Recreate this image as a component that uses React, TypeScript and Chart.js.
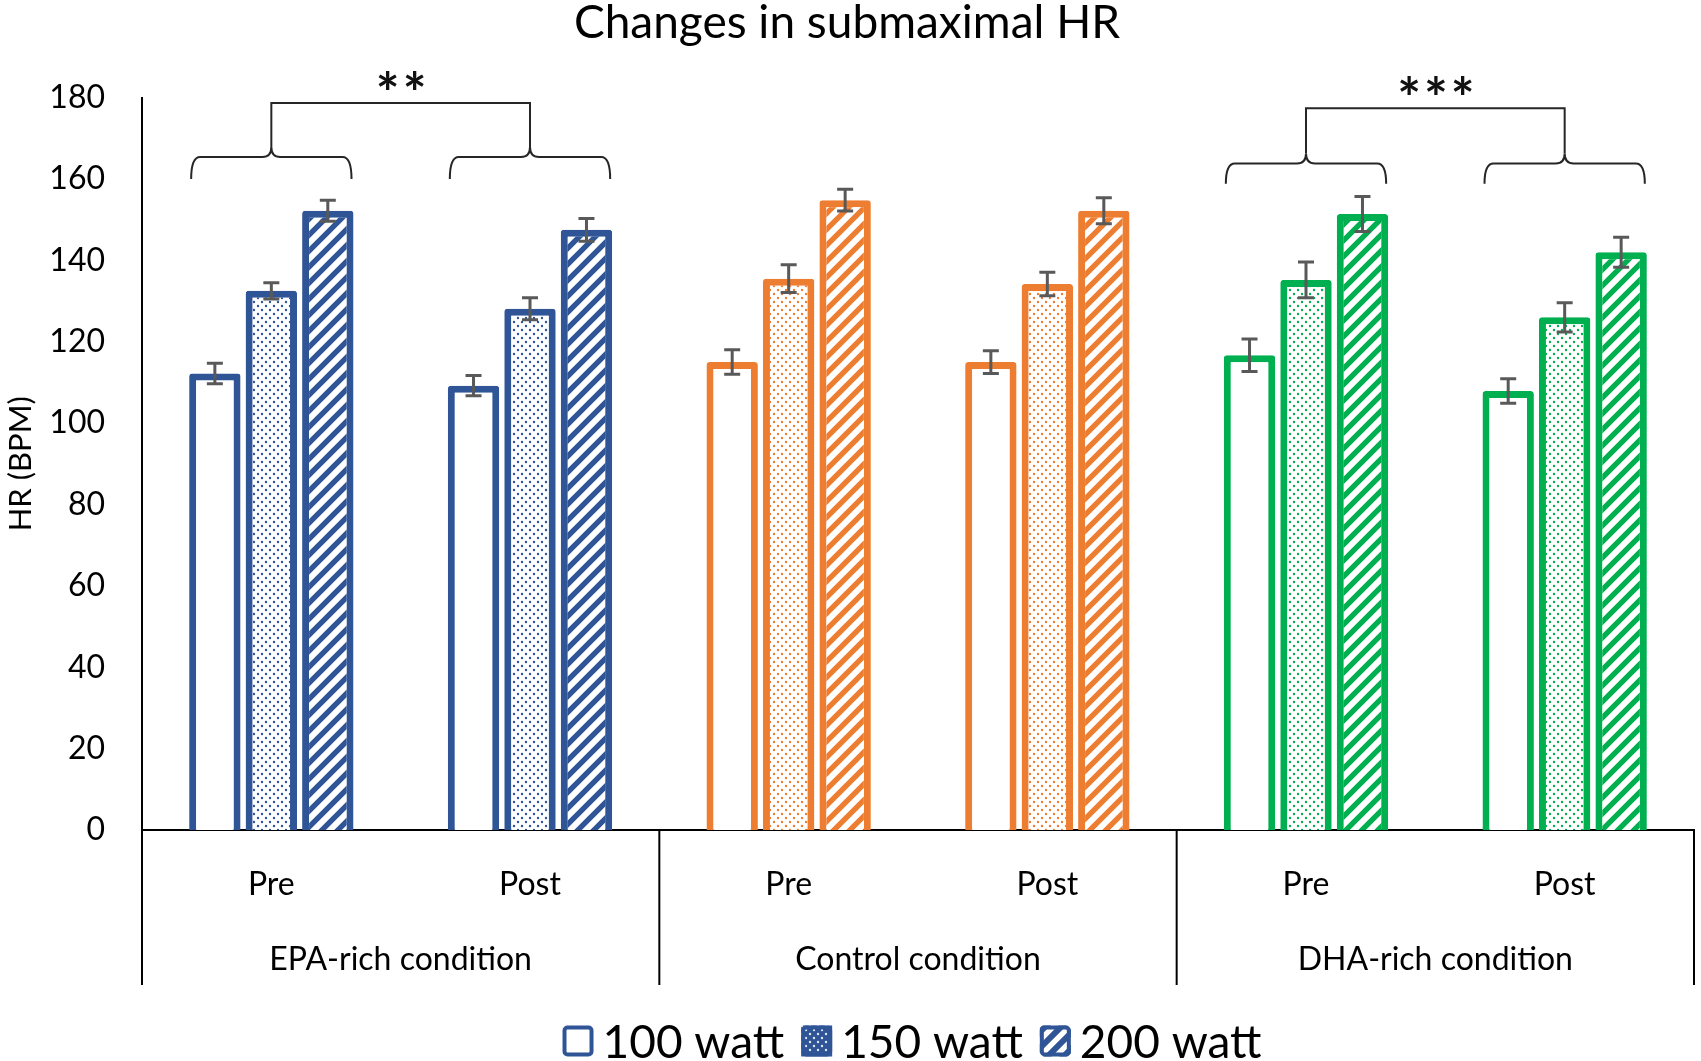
import React, { useEffect, useRef } from "react";
import { Chart, registerables } from "chart.js";

Chart.register(...registerables);

// --- data ---
const categories = ["Pre", "Post", "Pre", "Post", "Pre", "Post"];
const conditions = ["EPA-rich condition", "Control condition", "DHA-rich condition"];
const seriesNames = ["100 watt", "150 watt", "200 watt"];

const hr100 = [112.2, 109.2, 115.0, 115.0, 116.7, 107.9];
const hr150 = [132.5, 128.1, 135.5, 134.2, 135.2, 126.0];
const hr200 = [152.2, 147.5, 154.8, 152.2, 151.4, 142.0];

const err100 = [2.5, 2.5, 3.0, 2.8, 4.0, 3.0];
const err150 = [2.0, 2.7, 3.4, 2.9, 4.4, 3.6];
const err200 = [2.6, 2.8, 2.7, 3.2, 4.3, 3.7];

// significance brackets: which condition, label, and levels (in BPM)
const bracketConditions = [0, 2];
const bracketStars = ["**", "***"];
const braceEndLevel = [160.0, 158.8];
const braceLineLevel = [165.4, 163.8];
const bracketTopLevel = [178.7, 177.4];

const conditionColors = ["#2F5597", "#ED7D31", "#00B050"];
const FONT = "Lato";

const makeTile = (w, h, draw) => {
    const c = document.createElement("canvas");
    c.width = w;
    c.height = h;
    const g = c.getContext("2d");
    draw(g);
    return g.createPattern(c, "repeat");
};

const dotPattern = (color, bg = "#ffffff", dot = color) =>
    makeTile(8, 8, (g) => {
        g.fillStyle = bg;
        g.fillRect(0, 0, 8, 8);
        g.fillStyle = dot;
        g.beginPath();
        g.arc(2, 2, 1.2, 0, Math.PI * 2);
        g.arc(6, 6, 1.2, 0, Math.PI * 2);
        g.fill();
    });

const stripePattern = (color, bg = "#ffffff", line = color) =>
    makeTile(16, 16, (g) => {
        g.fillStyle = bg;
        g.fillRect(0, 0, 16, 16);
        g.strokeStyle = line;
        g.lineWidth = 5.4;
        g.beginPath();
        g.moveTo(-1, 17);
        g.lineTo(17, -1);
        g.moveTo(-9, 9);
        g.lineTo(9, -9);
        g.moveTo(7, 25);
        g.lineTo(25, 7);
        g.stroke();
    });

const catColor = (i) => conditionColors[Math.floor(i / 2)];

const errorBars = {
    id: "errorBars",
    afterDatasetsDraw(chart) {
        const { ctx } = chart;
        const y = chart.scales.y;
        const errs = [err100, err150, err200];
        ctx.save();
        ctx.strokeStyle = "#595959";
        ctx.lineWidth = 3;
        chart.data.datasets.forEach((ds, d) => {
            const meta = chart.getDatasetMeta(d);
            meta.data.forEach((bar, i) => {
                const v = ds.data[i];
                const e = errs[d][i];
                const top = y.getPixelForValue(v + e);
                const bot = y.getPixelForValue(v - e);
                ctx.beginPath();
                ctx.moveTo(bar.x, top);
                ctx.lineTo(bar.x, bot);
                ctx.moveTo(bar.x - 8, top);
                ctx.lineTo(bar.x + 8, top);
                ctx.moveTo(bar.x - 8, bot);
                ctx.lineTo(bar.x + 8, bot);
                ctx.stroke();
            });
        });
        ctx.restore();
    },
};

const decorations = {
    id: "decorations",
    afterDraw(chart) {
        const { ctx, chartArea } = chart;
        const x = chart.scales.x;
        const y = chart.scales.y;
        ctx.save();

        // group separators and condition labels under the axis
        const px = (i) => x.getPixelForValue(i);
        const bounds = [chartArea.left, (px(1) + px(2)) / 2, (px(3) + px(4)) / 2, chartArea.right];
        ctx.strokeStyle = "#000";
        ctx.lineWidth = 2;
        bounds.forEach((b) => {
            ctx.beginPath();
            ctx.moveTo(b, chartArea.bottom);
            ctx.lineTo(b, chartArea.bottom + 155);
            ctx.stroke();
        });
        ctx.fillStyle = "#000";
        ctx.font = `32px ${FONT}`;
        ctx.textAlign = "center";
        ctx.textBaseline = "middle";
        conditions.forEach((c, k) => {
            ctx.fillText(c, (bounds[k] + bounds[k + 1]) / 2, chartArea.bottom + 130);
        });

        // significance braces
        const first = chart.getDatasetMeta(0);
        const last = chart.getDatasetMeta(chart.data.datasets.length - 1);
        ctx.strokeStyle = "#262626";
        ctx.lineWidth = 2;
        bracketConditions.forEach((cond, k) => {
            const yEnd = y.getPixelForValue(braceEndLevel[k]);
            const yLine = y.getPixelForValue(braceLineLevel[k]);
            const yTip = yLine - 10;
            const yTop = y.getPixelForValue(bracketTopLevel[k]);
            const centers = [];
            [cond * 2, cond * 2 + 1].forEach((i) => {
                const b0 = first.data[i];
                const b1 = last.data[i];
                const x0 = b0.x - b0.width / 2 + 2;
                const x1 = b1.x + b1.width / 2 - 2;
                const xc = px(i);
                centers.push(xc);
                const r = 9;
                ctx.beginPath();
                ctx.moveTo(x0, yEnd);
                ctx.quadraticCurveTo(x0, yLine, x0 + r, yLine);
                ctx.lineTo(xc - r, yLine);
                ctx.quadraticCurveTo(xc, yLine, xc, yTip);
                ctx.quadraticCurveTo(xc, yLine, xc + r, yLine);
                ctx.lineTo(x1 - r, yLine);
                ctx.quadraticCurveTo(x1, yLine, x1, yEnd);
                ctx.stroke();
            });
            ctx.beginPath();
            ctx.moveTo(centers[0], yTip);
            ctx.lineTo(centers[0], yTop);
            ctx.lineTo(centers[1], yTop);
            ctx.lineTo(centers[1], yTip);
            ctx.stroke();
            ctx.fillStyle = "#111";
            ctx.font = `bold 56px ${FONT}`;
            ctx.letterSpacing = "3px";
            ctx.textBaseline = "alphabetic";
            ctx.fillText(bracketStars[k], (centers[0] + centers[1]) / 2 + 2, yTop + 10);
            ctx.letterSpacing = "0px";
        });

        // legend
        ctx.font = `46px ${FONT}`;
        ctx.textAlign = "left";
        ctx.textBaseline = "middle";
        const box = 31;
        const gapText = 9;
        const gapItem = 17;
        const widths = seriesNames.map((s) => ctx.measureText(s).width);
        const total = widths.reduce((a, w) => a + box + gapText + w, 0) + gapItem * (seriesNames.length - 1);
        let cx = (chartArea.left + chartArea.right) / 2 - total / 2 - 6;
        const ly = 1041;
        const blue = conditionColors[0];
        const legendFills = ["#ffffff", dotPattern(blue, blue, "#dfe6f2"), stripePattern(blue, blue, "#ffffff")];
        seriesNames.forEach((s, k) => {
            ctx.fillStyle = legendFills[k];
            ctx.fillRect(cx, ly - box / 2, box, box);
            ctx.strokeStyle = blue;
            ctx.lineWidth = 4;
            ctx.beginPath();
            ctx.roundRect(cx + 2, ly - box / 2 + 2, box - 4, box - 4, 3);
            ctx.stroke();
            ctx.fillStyle = "#000";
            ctx.fillText(s, cx + box + gapText, ly + 2);
            cx += box + gapText + widths[k] + gapItem;
        });
        ctx.restore();
    },
};

const App: React.FC = () => {
    const canvasRef = useRef(null);
    const chartRef = useRef(null);

    useEffect(() => {
        document.body.style.margin = "0";
        if (!canvasRef.current) return;
        if (chartRef.current) chartRef.current.destroy();

        const values = [hr100, hr150, hr200];
        const fills = [
            categories.map(() => "#ffffff"),
            categories.map((_, i) => dotPattern(catColor(i))),
            categories.map((_, i) => stripePattern(catColor(i))),
        ];

        const tickFont = { family: FONT, size: 32 };

        chartRef.current = new Chart(canvasRef.current, {
            type: "bar",
            data: {
                labels: categories,
                datasets: seriesNames.map((name, d) => ({
                    label: name,
                    data: values[d],
                    backgroundColor: fills[d],
                    borderColor: categories.map((_, i) => catColor(i)),
                    borderWidth: 7,
                    borderRadius: 3,
                    borderSkipped: "start",
                    categoryPercentage: 0.655,
                    barPercentage: 0.91,
                })),
            },
            options: {
                animation: false,
                responsive: false,
                layout: { padding: { left: 0, right: 7, top: 0, bottom: 0 } },
                plugins: {
                    legend: { display: false },
                    tooltip: { enabled: false },
                    title: {
                        display: true,
                        text: "Changes in submaximal HR",
                        color: "#000",
                        font: { family: FONT, size: 46, weight: "normal", lineHeight: 1 },
                        padding: { top: 0, bottom: 51.6 },
                    },
                },
                scales: {
                    x: {
                        grid: { display: false, drawTicks: false },
                        border: { display: true, color: "#000", width: 2 },
                        ticks: { font: tickFont, color: "#000", padding: 35, maxRotation: 0, autoSkip: false },
                        afterFit: (s) => {
                            s.height = 231;
                        },
                    },
                    y: {
                        min: 0,
                        max: 180,
                        grid: { display: false, drawTicks: false },
                        border: { display: true, color: "#000", width: 2 },
                        ticks: { stepSize: 20, font: tickFont, color: "#000", padding: 37 },
                        title: {
                            display: true,
                            text: "HR (BPM)",
                            color: "#000",
                            font: { family: FONT, size: 31 },
                            padding: { top: 2, bottom: 0 },
                        },
                        afterFit: (s) => {
                            s.width = 142;
                        },
                    },
                },
            },
            plugins: [errorBars, decorations],
        });

        return () => {
            if (chartRef.current) {
                chartRef.current.destroy();
                chartRef.current = null;
            }
        };
    }, []);

    return <canvas ref={canvasRef} width={1701} height={1061} style={{ display: "block" }} />;
};

export default App;
